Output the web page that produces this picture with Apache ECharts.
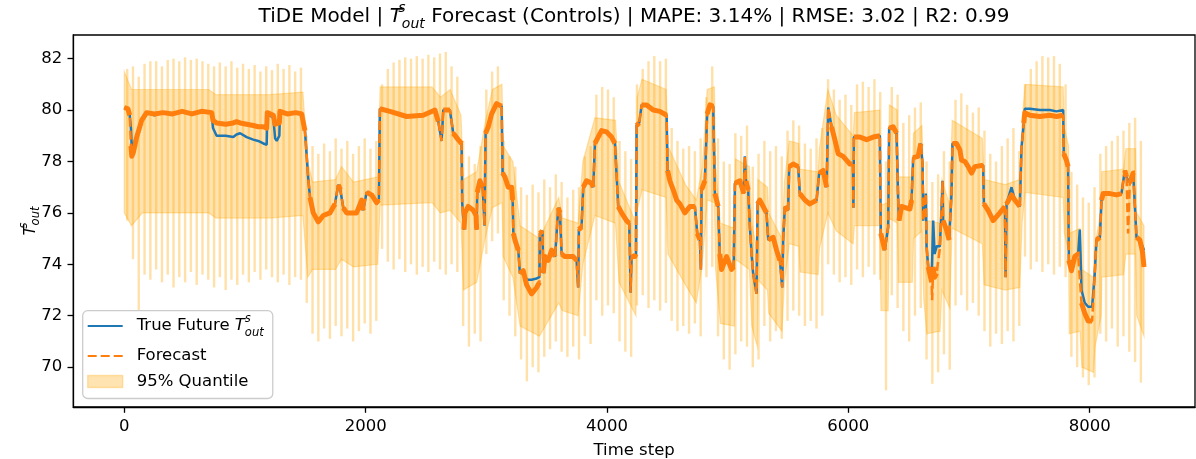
<!DOCTYPE html>
<html><head><meta charset="utf-8">
<script src="https://cdn.jsdelivr.net/npm/echarts@6/dist/echarts.min.js"></script>
<style>html,body{margin:0;padding:0;background:#fff}#c{width:1196px;height:459px}</style>
</head><body><div id="c"></div>
<script>
const xTicks = [0, 2000, 4000, 6000, 8000];
const yTicks = [70, 72, 74, 76, 78, 80, 82];

const steps = [
0,30,45,55,62,75,103,144,185,250,
320,400,480,560,640,724,735,765,840,903,
930,960,1014,1069,1110,1152,1180,1185,1235,1250,
1263,1285,1290,1350,1420,1470,1497,1525,1539,1566,
1607,1649,1704,1746,1773,1790,1815,1843,1925,1967,
1980,2008,2050,2091,2110,2118,2201,2340,2477,2574,
2602,2630,2643,2698,2726,2767,2795,2800,2815,2823,
2850,2892,2915,2920,2925,2947,2970,2985,2994,3016,
3044,3085,3127,3135,3154,3182,3210,3218,3224,3237,
3265,3278,3306,3334,3375,3417,3440,3444,3465,3472,
3486,3513,3541,3570,3596,3610,3624,3651,3720,3748,
3761,3767,3789,3803,3831,3872,3886,3900,3927,3955,
3997,4038,4066,4093,4121,4162,4184,4190,4195,4204,
4231,4240,4245,4267,4287,4328,4383,4438,4494,4502,
4521,4549,4577,4604,4645,4687,4728,4748,4770,4778,
4784,4811,4830,4853,4880,4894,4921,4935,4949,4991,
5032,5050,5060,5101,5134,5142,5151,5170,5184,5198,
5211,5239,5248,5266,5294,5322,5336,5377,5405,5433,
5452,5460,5474,5501,5510,5543,5584,5598,5640,5681,
5737,5758,5791,5820,5833,5861,5888,5916,5957,6013,
6038,6042,6046,6096,6151,6206,6261,6269,6302,6330,
6338,6371,6399,6413,6420,6441,6510,6524,6537,6578,
6600,6615,6620,6642,6648,6662,6690,6694,6703,6715,
6731,6758,6772,6780,6785,6813,6835,6855,6863,6896,
6924,6938,6965,6993,7021,7048,7117,7123,7158,7200,
7255,7297,7303,7311,7352,7380,7421,7435,7454,7462,
7504,7587,7669,7725,7780,7785,7807,7821,7827,7849,
7876,7904,7918,7932,7959,7987,8020,8042,8056,8084,
8098,8111,8167,8222,8263,8291,8305,8318,8332,8360,
8375,8388,8415,8437,8450
];

const trueVals = [
80.1,80.0,79.8,79.3,78.5,78.5,79.0,79.6,79.9,79.8,
79.9,79.85,79.95,79.85,79.95,79.9,79.3,79.0,79.0,78.95,
79.05,79.1,78.95,78.85,78.8,78.7,78.65,79.85,79.7,78.9,
78.8,79.0,79.9,79.85,79.9,79.85,79.2,77.3,76.6,76.0,
75.65,75.9,76.0,76.35,77.1,76.9,76.2,76.0,76.0,76.5,
76.1,76.8,76.7,76.4,76.5,80.05,79.95,79.75,79.8,80.0,
79.55,78.8,80.0,80.0,79.1,78.85,78.7,76.4,75.35,76.0,
76.25,76.1,75.9,75.35,76.8,77.25,77.0,75.5,79.1,79.35,
79.85,80.25,80.15,77.55,77.4,77.0,77.0,76.5,75.2,74.95,
74.55,73.65,73.75,73.4,73.4,73.45,73.5,75.2,75.3,73.65,
74.3,74.15,74.55,74.3,76.2,76.0,74.4,74.3,74.3,74.15,
73.1,75.35,75.45,77.0,77.25,77.15,77.0,78.7,78.95,79.2,
79.15,78.95,78.7,76.25,76.0,75.7,75.6,74.4,72.9,74.3,
74.3,74.4,79.4,79.5,80.2,80.2,80.0,79.95,79.8,77.65,
77.25,76.9,76.5,76.35,76.0,76.25,76.25,75.2,74.95,73.8,
76.9,77.25,79.85,80.2,80.15,76.75,76.25,74.4,73.8,74.3,
73.8,73.9,77.15,77.25,76.75,78.2,77.25,76.9,75.45,74.4,
73.65,72.85,76.35,76.5,76.25,76.0,74.95,75.05,74.55,74.15,
73.1,74.95,76.25,76.1,77.8,77.9,77.8,76.75,76.5,76.35,
76.5,77.55,77.65,77.0,80.1,79.35,78.85,78.3,78.2,77.9,
77.9,76.2,78.95,78.95,78.85,78.95,79.0,75.2,74.55,75.45,
79.3,79.35,79.1,76.5,75.7,76.25,76.15,76.5,78.15,78.2,
78.7,77.9,75.7,76.75,74.7,73.9,73.4,73.4,75.7,74.4,
74.7,74.7,76.1,77.25,75.7,75.35,74.95,76.75,78.7,78.7,
78.45,78.05,78.0,77.8,77.55,77.8,77.85,76.35,76.1,75.7,
76.0,76.25,73.5,76.35,77.0,76.5,76.25,78.55,79.5,80.05,
80.05,80.0,80.0,79.95,80.0,78.3,78.05,77.8,74.15,74.0,
74.3,74.4,75.35,73.0,72.5,72.35,72.35,73.65,74.95,75.05,
76.5,76.75,76.75,76.7,76.75,77.65,77.4,77.2,77.15,77.55,
77.55,75.05,74.95,74.7,74.55
];

const forecastVals = [
80.1,80.05,79.8,78.6,78.2,78.35,78.95,79.6,79.9,79.85,
79.9,79.85,79.95,79.85,79.95,79.9,79.6,79.5,79.45,79.5,
79.55,79.5,79.45,79.4,79.35,79.35,79.3,79.9,79.8,79.45,
79.4,79.5,79.95,79.85,79.9,79.85,79.2,77.3,76.6,76.0,
75.65,75.9,76.0,76.35,77.1,76.9,76.2,76.0,76.0,76.5,
76.1,76.8,76.7,76.4,76.5,80.05,79.95,79.75,79.8,80.0,
79.55,78.8,80.0,80.0,79.1,78.85,78.7,76.4,75.35,76.0,
76.25,76.1,75.9,75.35,76.8,77.25,77.0,75.5,79.1,79.35,
79.85,80.25,80.15,77.55,77.4,77.0,77.0,76.5,75.2,74.95,
74.55,73.65,73.75,73.2,72.85,73.1,73.3,75.2,75.3,73.65,
74.3,74.15,74.55,74.3,76.2,76.0,74.4,74.3,74.3,74.15,
73.1,75.35,75.45,77.0,77.25,77.15,77.0,78.7,78.95,79.2,
79.15,78.95,78.7,76.25,76.0,75.7,75.6,74.4,72.9,74.3,
74.3,74.4,79.4,79.5,80.2,80.2,80.0,79.95,79.8,77.65,
77.25,76.9,76.5,76.35,76.0,76.25,76.25,75.2,74.95,73.8,
76.9,77.25,79.85,80.2,80.15,76.75,76.25,74.4,73.8,74.3,
73.8,73.9,77.15,77.25,76.75,78.2,77.25,76.9,75.45,74.4,
73.65,72.85,76.35,76.5,76.25,76.0,74.95,75.05,74.55,74.15,
73.1,74.95,76.25,76.1,77.8,77.9,77.8,76.75,76.5,76.35,
76.5,77.55,77.65,77.0,80.1,79.35,78.85,78.3,78.2,77.9,
77.9,76.2,78.95,78.95,78.85,78.95,79.0,75.2,74.55,75.45,
79.3,79.35,79.1,76.5,75.7,76.25,76.15,76.5,78.15,78.2,
78.7,77.9,75.7,76.75,74.7,73.9,73.3,72.6,73.9,73.5,
73.65,74.6,76.1,77.25,75.7,75.35,74.95,76.75,78.7,78.7,
78.45,78.05,78.0,77.8,77.55,77.8,77.85,76.35,76.1,75.7,
76.0,76.25,73.5,76.35,76.7,76.5,76.25,78.55,79.5,79.9,
79.8,79.75,79.8,79.75,79.8,78.3,78.05,77.8,74.15,73.75,
74.3,74.4,74.4,72.5,72.1,71.8,71.8,73.65,74.95,75.05,
76.5,76.75,76.75,76.7,76.75,77.65,77.4,75.2,77.15,77.55,
77.55,75.05,74.95,74.5,73.9
];

const bandSteps = [
0,60,150,700,760,1200,1480,1520,1560,1750,
1800,1900,2100,2120,2550,2620,2700,2790,2810,2920,
2990,3050,3130,3140,3220,3280,3440,3600,3630,3760,
3800,3900,4070,4100,4240,4250,4290,4490,4505,4650,
4740,4790,4830,4890,4900,4940,5055,5065,5180,5200,
5245,5250,5330,5340,5450,5470,5510,5590,5600,5750,
5760,5830,5900,6040,6050,6260,6270,6330,6340,6405,
6415,6530,6540,6610,6625,6650,6760,6775,6840,6860,
7110,7125,7300,7420,7440,7465,7780,7790,7825,7830,
7920,7935,8030,8045,8095,8100,8280,8300,8380,8390,
8450
];
const bandUpper = [
81.5,80.8,80.8,80.8,80.6,80.6,80.7,78.0,77.2,77.3,
77.8,77.2,77.4,80.9,80.9,80.5,80.8,79.8,77.3,77.6,
79.5,80.8,81.0,78.6,78.0,75.5,75.0,76.6,75.8,75.6,
78.0,79.7,79.6,77.2,75.6,80.5,81.2,80.8,78.6,77.1,
76.5,77.8,80.8,80.9,77.8,75.6,75.4,78.1,77.8,75.6,
74.5,77.3,77.0,76.0,75.0,77.2,78.8,78.7,77.7,77.6,
78.5,80.8,79.8,79.0,79.9,80.0,76.3,76.4,80.2,80.0,
77.4,77.4,79.1,79.4,77.0,75.7,75.6,77.3,76.3,79.6,
78.9,77.3,77.1,77.3,79.6,81.0,80.9,79.3,78.6,75.2,
75.4,73.8,73.5,74.8,76.1,77.6,77.7,78.5,78.5,76.0,
75.5
];
const bandLower = [
76.0,75.5,76.0,76.0,75.8,75.8,75.9,73.5,73.8,73.8,
74.2,73.9,74.0,76.3,76.4,76.0,76.1,75.6,73.0,73.3,
75.0,76.2,76.4,74.3,73.5,71.6,71.2,72.5,72.2,72.0,
74.0,75.9,75.6,73.3,72.0,76.1,76.9,76.6,74.4,73.2,
72.5,74.0,76.5,76.4,73.8,71.7,71.6,74.2,73.8,71.6,
70.8,73.4,73.0,72.1,71.4,73.3,74.8,74.7,73.7,73.6,
74.6,76.0,75.3,74.8,75.5,75.5,72.2,72.2,75.8,75.6,
73.3,73.3,75.0,75.3,72.6,71.3,71.4,73.0,72.3,75.4,
74.8,73.2,73.0,73.1,75.6,76.8,76.6,75.2,74.5,71.3,
71.4,70.0,69.8,70.8,72.0,73.5,73.6,74.4,74.4,72.0,
71.2
];

const spikeFirst = 24;
const spikePeriod = 48;
const spikeUpper = [
81.6,81.7,81.3,81.8,81.9,81.9,81.7,81.95,82.0,81.9,
82.05,81.95,82.0,81.9,81.8,81.7,81.85,81.7,81.9,81.65,
81.8,81.6,81.75,81.5,81.7,81.55,81.8,81.6,81.75,81.5,
81.65,79.0,78.6,78.3,78.7,78.4,78.9,78.5,78.8,78.3,
78.6,78.9,78.5,78.8,81.0,81.6,81.85,81.95,82.05,82.0,
82.1,82.0,82.15,82.05,82.2,82.26,81.7,81.3,78.8,78.2,
77.9,78.6,80.8,81.5,81.7,78.8,78.2,77.8,77.0,76.7,
77.1,76.8,77.3,77.0,77.5,77.2,76.6,76.9,77.0,78.2,
78.6,80.6,80.9,80.8,80.5,78.8,78.4,78.1,81.0,81.6,
81.9,82.1,81.9,82.0,79.3,78.8,78.5,78.6,78.4,78.9,
80.5,81.7,78.9,78.0,77.9,79.1,79.0,79.4,77.8,78.3,
78.8,78.4,78.6,78.2,79.2,79.6,79.4,78.7,78.5,78.9,
79.3,81.2,80.8,80.4,80.6,80.2,81.0,81.1,80.9,81.2,
80.7,78.0,80.9,80.6,79.5,79.8,80.1,80.3,78.0,77.2,
77.5,78.4,78.0,80.4,80.65,80.2,79.9,80.1,79.2,78.3,
78.0,78.6,78.9,79.3,78.4,81.0,81.6,81.9,82.1,82.05,
82.1,81.8,81.0,77.6,77.1,76.6,76.4,77.0,78.3,78.6,
78.8,79.0,79.2,79.5,79.7,78.8
];
const spikeLower = [
75.7,74.2,72.2,73.6,73.4,73.8,73.3,73.6,73.1,73.5,
73.3,73.7,73.2,73.6,73.4,73.1,73.5,73.0,73.4,73.2,
73.6,73.3,73.7,73.4,73.8,73.5,73.3,73.6,73.2,73.5,
73.4,72.5,71.3,71.0,71.5,71.1,71.6,71.2,71.5,71.0,
71.4,71.7,71.3,71.8,74.6,74.1,73.8,74.2,73.7,74.0,
73.6,73.9,73.7,74.1,73.8,73.6,74.0,73.7,71.6,70.8,
71.3,71.0,74.4,74.9,75.2,72.6,72.0,71.2,70.3,69.45,
70.0,69.8,70.4,70.7,71.0,70.6,70.4,70.8,70.3,71.2,
70.9,72.6,72.0,72.4,72.1,71.0,70.6,70.4,72.4,72.8,
72.3,72.6,72.2,72.5,71.8,71.4,71.6,71.3,71.7,71.2,
73.5,73.9,71.2,70.3,69.9,70.5,71.0,70.8,70.0,70.3,
71.6,71.0,71.4,71.1,71.8,72.2,72.0,71.6,71.8,71.5,
72.0,74.0,73.6,73.3,73.5,73.2,73.8,73.5,73.9,73.6,
73.4,69.1,72.8,72.3,71.4,71.0,72.0,72.3,70.3,69.35,
69.8,70.5,69.9,72.4,72.8,72.2,72.5,72.0,71.4,70.8,
71.3,70.9,71.4,71.0,71.6,74.3,73.8,74.1,73.7,74.0,
73.6,73.9,73.5,70.4,70.0,69.6,69.3,69.6,71.3,71.0,
71.5,70.8,71.2,70.6,70.2,69.4
];

const FONT = 'DejaVu Sans';
const BLUE = '#1f77b4';
const ORANGE = '#ff7f0e';
const BAND = 'rgba(255,165,0,0.3)';
const SPIKE = 'rgba(255,165,0,0.34)';
const NONE = 'rgba(0,0,0,0)';

const trueData = steps.map((s, i) => [s, trueVals[i]]);
const fcData = steps.map((s, i) => [s, forecastVals[i]]);
const bodyData = [];
for (let i = 0; i < steps.length; i++) {
  bodyData.push([steps[i], forecastVals[i]]);
  if (i < steps.length - 1 && Math.abs(forecastVals[i + 1] - forecastVals[i]) > 0.7) {
    bodyData.push([steps[i], null]);
  }
}
const spikeData = spikeUpper.map((u, i) => [spikeFirst + i * spikePeriod, spikeLower[i], u]);

const mathRich = (size, lh) => ({
  n: {fontFamily: FONT, fontSize: size, color: '#000', lineHeight: lh},
  it: {fontFamily: FONT, fontSize: size, fontStyle: 'italic', color: '#000', lineHeight: lh},
  sup: {fontFamily: FONT, fontSize: size * 0.7, fontStyle: 'italic', color: '#000', lineHeight: size * 0.85, verticalAlign: 'top', width: 0},
  sub: {fontFamily: FONT, fontSize: size * 0.7, fontStyle: 'italic', color: '#000', lineHeight: size * 0.85, verticalAlign: 'bottom'}
});

const legendRich = Object.assign(mathRich(16.5, 26), {
  n3: {fontFamily: FONT, fontSize: 16.5, color: '#000', lineHeight: 16}
});

const titleRich = {
  n: {fontFamily: FONT, fontSize: 20, fill: '#000', lineHeight: 30},
  it: {fontFamily: FONT, fontSize: 20, fontStyle: 'italic', fill: '#000', lineHeight: 30},
  sup: {fontFamily: FONT, fontSize: 14, fontStyle: 'italic', fill: '#000', lineHeight: 16, verticalAlign: 'top', width: 0},
  sub: {fontFamily: FONT, fontSize: 14, fontStyle: 'italic', fill: '#000', lineHeight: 16, verticalAlign: 'bottom'}
};

const chart = echarts.init(document.getElementById('c'), null, {renderer: 'canvas', width: 1196, height: 459});
chart.setOption({
  animation: false,
  backgroundColor: '#fff',
  graphic: [{
    type: 'text', x: 634, y: 1.6, z: 10,
    style: {
      text: '{n|TiDE Model | }{it|T}{sup|s}{sub|out}{n| Forecast (Controls) | MAPE: 3.14% | RMSE: 3.02 | R2: 0.99}',
      align: 'center', verticalAlign: 'top', rich: titleRich, fill: '#000'
    }
  }],
  grid: {left: 73.3, right: 1, top: 35, bottom: 52, show: true, borderColor: '#000', borderWidth: 1.3,
    backgroundColor: 'transparent', containLabel: false, outerBoundsMode: 'none'},
  xAxis: {
    type: 'value', min: -422.5, max: 8872.5,
    axisLine: {show: true, onZero: false, lineStyle: {color: '#000', width: 1.3}},
    axisTick: {show: true, length: 5.8, lineStyle: {color: '#000', width: 1.3}, customValues: xTicks},
    axisLabel: {customValues: xTicks, formatter: v => String(v), fontFamily: FONT, fontSize: 16.5, color: '#000', margin: 11},
    splitLine: {show: false},
    name: 'Time step', nameLocation: 'middle', nameGap: 35, nameMoveOverlap: false,
    nameTextStyle: {fontFamily: FONT, fontSize: 16.5, color: '#000'}
  },
  yAxis: {
    type: 'value', min: 68.45, max: 82.92,
    axisLine: {show: true, onZero: false, lineStyle: {color: '#000', width: 1.3}},
    axisTick: {show: true, length: 5.8, lineStyle: {color: '#000', width: 1.3}, customValues: yTicks},
    axisLabel: {customValues: yTicks, formatter: v => String(v), fontFamily: FONT, fontSize: 16.5, color: '#000', margin: 11},
    splitLine: {show: false},
    name: '{it|T}{sup|s}{sub|out}', nameLocation: 'middle', nameGap: 31, nameRotate: 90, nameMoveOverlap: false,
    nameTextStyle: {fontFamily: FONT, fontSize: 16.5, color: '#000', rich: mathRich(16.5, 24)}
  },
  legend: {
    orient: 'vertical', left: 82.7, top: 310.7,
    padding: [2.3, 9, 8.5, 4], itemGap: 8.5, itemWidth: 35, itemHeight: 12,
    backgroundColor: 'rgba(255,255,255,0.8)', borderColor: '#cccccc', borderWidth: 1.3, borderRadius: 5,
    selectedMode: false, z: 20,
    data: [
      {name: 'True Future', itemStyle: {color: NONE, borderColor: NONE, borderWidth: 0, opacity: 0}},
      {name: 'Forecast', itemStyle: {color: NONE, borderColor: NONE, borderWidth: 0, opacity: 0}},
      {name: '95% Quantile', icon: 'rect', itemStyle: {color: BAND, borderColor: 'rgba(255,165,0,0.3)', borderWidth: 1.3}}
    ],
    formatter: n => n === 'True Future' ? '{n|True Future }{it|T}{sup|s}{sub|out}'
      : (n === 'Forecast' ? '{n|Forecast}' : '{n3|95% Quantile}'),
    textStyle: {fontFamily: FONT, fontSize: 16.5, color: '#000', padding: [0, 0, 0, 9], rich: legendRich}
  },
  series: [
    {
      name: '95% Quantile', type: 'custom', z: 1, silent: true,
      itemStyle: {color: BAND},
      data: [[bandSteps[0], bandLower[0], bandUpper[0]]],
      encode: {x: 0, y: [1, 2]},
      renderItem: (params, api) => {
        if (params.dataIndex !== 0) return null;
        const pts = [];
        for (let i = 0; i < bandSteps.length; i++) pts.push(api.coord([bandSteps[i], bandUpper[i]]));
        for (let i = bandSteps.length - 1; i >= 0; i--) pts.push(api.coord([bandSteps[i], bandLower[i]]));
        return {type: 'polygon', shape: {points: pts}, style: {fill: BAND, stroke: BAND, lineWidth: 1.2}};
      }
    },
    {
      type: 'custom', z: 1, silent: true,
      data: spikeData,
      encode: {x: 0, y: [1, 2]},
      renderItem: (params, api) => {
        const x = api.value(0);
        const a = api.coord([x, api.value(2)]);
        const b = api.coord([x, api.value(1)]);
        return {type: 'rect', shape: {x: a[0] - 1.2, y: a[1], width: 2.4, height: b[1] - a[1]}, style: {fill: SPIKE}};
      }
    },
    {
      name: 'True Future', type: 'line', z: 3, silent: true, symbol: 'none', showSymbol: false,
      data: trueData, lineStyle: {color: BLUE, width: 2.5}, itemStyle: {color: BLUE}
    },
    {
      type: 'line', z: 4, silent: true, symbol: 'none', showSymbol: false, connectNulls: false,
      data: bodyData, lineStyle: {color: ORANGE, width: 5, join: 'round'}, itemStyle: {color: ORANGE}
    },
    {
      name: 'Forecast', type: 'line', z: 5, silent: true, symbol: 'none', showSymbol: false,
      data: fcData, lineStyle: {color: ORANGE, width: 2.5, type: [9, 4]}, itemStyle: {color: ORANGE}
    }
  ]
});
</script></body></html>
